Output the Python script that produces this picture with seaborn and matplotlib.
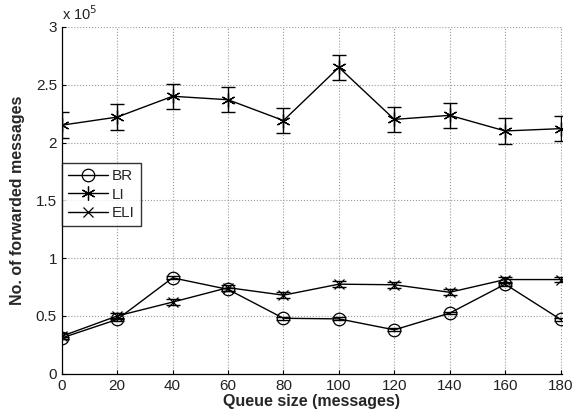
import pandas as pd
import matplotlib
matplotlib.use("Agg")
import matplotlib.pyplot as plt
import seaborn as sns
from matplotlib.ticker import FuncFormatter

# -------------------- DATA (values in messages) --------------------
queue = [0, 20, 40, 60, 80, 100, 120, 140, 160, 180]
br = [0.31e5, 0.47e5, 0.83e5, 0.73e5, 0.48e5, 0.475e5, 0.38e5, 0.525e5, 0.775e5, 0.47e5]
br_err = [0.012e5] * 10
li = [2.15e5, 2.22e5, 2.40e5, 2.37e5, 2.19e5, 2.65e5, 2.20e5, 2.235e5, 2.10e5, 2.12e5]
li_err = [0.11e5] * 10
eli = [0.325e5, 0.50e5, 0.62e5, 0.745e5, 0.68e5, 0.775e5, 0.77e5, 0.705e5, 0.815e5, 0.815e5]
eli_err = [0.025e5] * 10
yticks = [0, 0.5e5, 1e5, 1.5e5, 2e5, 2.5e5, 3e5]
# -------------------------------------------------------------------

df = pd.concat([
    pd.DataFrame({"Queue": queue, "Msgs": br, "Err": br_err, "Method": "BR"}),
    pd.DataFrame({"Queue": queue, "Msgs": li, "Err": li_err, "Method": "LI"}),
    pd.DataFrame({"Queue": queue, "Msgs": eli, "Err": eli_err, "Method": "ELI"}),
])

sns.set_style("ticks")
plt.rcParams["font.family"] = ["Liberation Sans", "DejaVu Sans"]

fig = plt.figure(figsize=(5.77, 4.2), dpi=100)
ax = fig.add_axes([0.107, 0.110, 0.867, 0.826])

markers = {"BR": "o", "LI": (6, 2, 0), "ELI": "x"}
msize = {"BR": 9, "LI": 10, "ELI": 7}

for name in ["BR", "LI", "ELI"]:
    d = df[df["Method"] == name]
    ax.errorbar(d["Queue"], d["Msgs"], yerr=d["Err"], fmt="none", ecolor="black",
                elinewidth=1, capsize=5, capthick=1)
    sns.lineplot(data=d, x="Queue", y="Msgs", ax=ax, color="black", linewidth=1,
                 marker=markers[name], markersize=msize[name], markerfacecolor="none",
                 markeredgecolor="black", markeredgewidth=0.9, label=name)

ax.set_xlim(0, 180.5)
ax.set_ylim(0, 3e5)
ax.set_xticks(queue)
ax.set_yticks(yticks)
ax.yaxis.set_major_formatter(FuncFormatter(lambda v, p: f"{v / 1e5:g}"))
ax.text(0.0, 1.012, r"x 10$^5$", transform=ax.transAxes, fontsize=10.5,
        ha="left", va="bottom", color="#222222")

ax.grid(True, color="#999999", linestyle=":", linewidth=0.8)
ax.spines["top"].set_visible(False)
ax.spines["right"].set_visible(False)
for s in ["left", "bottom"]:
    ax.spines[s].set_color("black")
    ax.spines[s].set_linewidth(0.9)
ax.tick_params(labelsize=11, direction="in", length=3, colors="black",
               labelcolor="#222222")

ax.set_xlabel("Queue size (messages)", fontsize=11.5, fontweight="bold", labelpad=1)
ax.set_ylabel("No. of forwarded messages", fontsize=11.5, fontweight="bold", labelpad=8)

leg = ax.legend(loc="upper left", bbox_to_anchor=(0, 0.608), borderaxespad=0,
                fontsize=11, frameon=True, fancybox=False, edgecolor="black",
                handlelength=2.6, labelspacing=0.3, borderpad=0.4, handletextpad=0.3)
leg.get_frame().set_linewidth(1)

plt.savefig("out.png", dpi=100)
